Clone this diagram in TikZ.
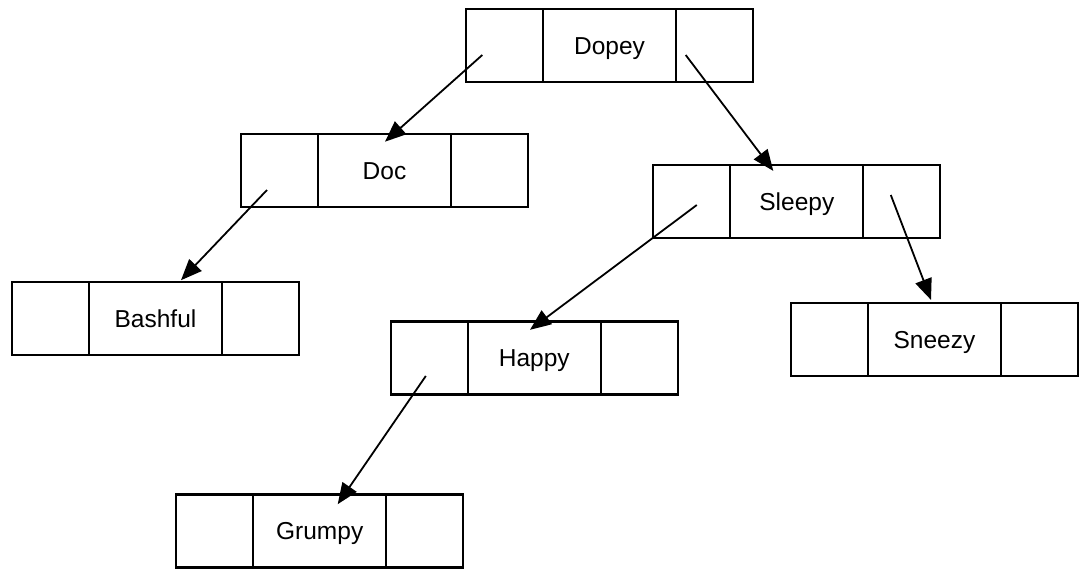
\documentclass[tikz,border=0pt]{standalone}
\usepackage{fontspec}
\setmainfont{Liberation Sans}
\usetikzlibrary{arrows.meta}
\begin{document}
\begin{tikzpicture}[x=1pt,y=-1pt,
  mid/.style={draw,line width=2.1pt,minimum width=133pt,minimum height=73pt,inner sep=0pt,outer sep=0pt,
    text height=17.6pt,text depth=0pt,font=\fontsize{24.5}{29}\selectfont},
  cell/.style={draw,line width=2.1pt,minimum width=77pt,minimum height=73pt,inner sep=0pt,outer sep=0pt},
  link/.style={line width=1.8pt,-{Triangle[length=21pt,width=17pt]}}]
\useasboundingbox (0,0) rectangle (1089,584);
% tree nodes
\foreach \n/\t/\x/\y in {dopey/Dopey/609.5/45.5, doc/Doc/384.5/170.5, sleepy/Sleepy/796.8/201.7,
  bashful/Bashful/155.5/318.7, happy/Happy/534.3/358, sneezy/Sneezy/934.5/339.7, grumpy/Grumpy/319.7/531}{
  \node[mid] (\n) at (\x,\y) {\t};
  \node[cell,anchor=east] (\n L) at (\n.west) {};
  \node[cell,anchor=west] (\n R) at (\n.east) {};
}
% links
\draw[link] ([shift={(-22.2,9.5)}]dopeyL.center) -- ([shift={(0.5,7.7)}]doc.north);
\draw[link] ([shift={(-28.8,9.5)}]dopeyR.center) -- ([shift={(-23.5,5.7)}]sleepy.north);
\draw[link] ([shift={(-12.5,19.5)}]docL.center) -- ([shift={(25.5,-2)}]bashful.north);
\draw[link] ([shift={(5,3.3)}]sleepyL.center) -- ([shift={(-4.3,8.3)}]happy.north);
\draw[link] ([shift={(-11,-6.7)}]sleepyR.center) -- ([shift={(-3.5,-3.3)}]sneezy.north);
\draw[link] ([shift={(-3.5,18)}]happyL.center) -- ([shift={(18,9.7)}]grumpy.north);
\end{tikzpicture}
\end{document}
